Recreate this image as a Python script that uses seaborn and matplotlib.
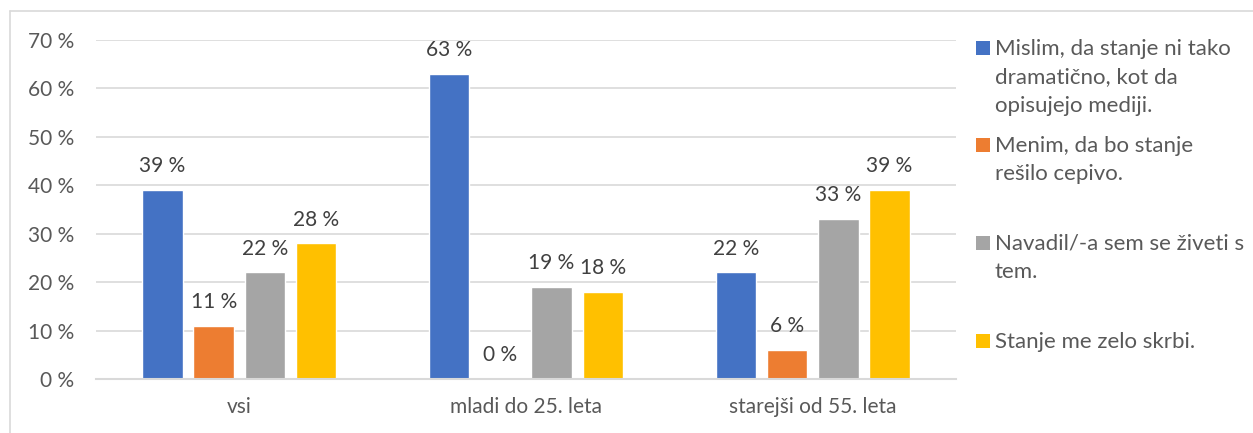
import matplotlib
matplotlib.use("Agg")
import matplotlib.pyplot as plt
from matplotlib.lines import Line2D
from matplotlib.patches import Rectangle
import seaborn as sns
import pandas as pd

# ---- data ----
categories = ["vsi", "mladi do 25. leta", "starejši od 55. leta"]
series_names = [
    "Mislim, da stanje ni tako dramatično, kot da opisujejo mediji.",
    "Menim, da bo stanje rešilo cepivo.",
    "Navadil/-a sem se živeti s tem.",
    "Stanje me zelo skrbi.",
]
legend_lines = [
    ["Mislim, da stanje ni tako", "dramatično, kot da", "opisujejo mediji."],
    ["Menim, da bo stanje", "rešilo cepivo."],
    ["Navadil/-a sem se živeti s", "tem."],
    ["Stanje me zelo skrbi."],
]
s1 = [39, 63, 22]
s2 = [11, 0, 6]
s3 = [22, 19, 33]
s4 = [28, 18, 39]
y_ticks = [0, 10, 20, 30, 40, 50, 60, 70]
colors = ["#4472C4", "#ED7D31", "#A5A5A5", "#FFC000"]

rows = []
for name, vals in zip(series_names, [s1, s2, s3, s4]):
    for c, v in zip(categories, vals):
        rows.append({"cat": c, "series": name, "val": v})
df = pd.DataFrame(rows)

sns.set_theme(style="white")
plt.rcParams["font.family"] = ["Lato", "DejaVu Sans"]
txt = "#595959"
fs = 15

fig = plt.figure(figsize=(12.53, 4.33), dpi=100)
W, H = 1253, 433
ax = fig.add_axes([96 / W, (H - 379) / H, (956 - 96) / W, (379 - 40) / H])

sns.barplot(data=df, x="cat", y="val", hue="series", order=categories,
            hue_order=series_names, palette=colors, width=0.715, gap=0.21,
            saturation=1, ax=ax, legend=False)

for cont in ax.containers:
    ax.bar_label(cont, labels=[f"{int(round(b.get_height()))} %" for b in cont],
                 padding=10, fontsize=fs, color="#404040")

ax.set_xlim(-0.5, 2.5)
ax.set_ylim(0, 70)
ax.set_yticks(y_ticks)
ax.set_yticklabels([f"{t} %" for t in y_ticks], fontsize=fs, color=txt)
ax.tick_params(axis="x", labelsize=fs, labelcolor=txt, pad=13, length=0)
ax.tick_params(axis="y", pad=16, length=0)
ax.set_xlabel("")
ax.set_ylabel("")
ax.yaxis.grid(True, color="#D9D9D9", linewidth=1.2)
ax.set_axisbelow(True)
for sp in ["top", "right", "left"]:
    ax.spines[sp].set_visible(False)
ax.spines["bottom"].set_color("#D9D9D9")
ax.spines["bottom"].set_linewidth(1.5)

# legend drawn manually (Excel-like, top-aligned entries)
base_y = [55, 152, 250, 348]
for lines, col, by in zip(legend_lines, colors, base_y):
    fig.add_artist(Rectangle((976 / W, (H - by) / H), 14 / W, 14 / H,
                             transform=fig.transFigure, color=col, lw=0))
    for i, line in enumerate(lines):
        fig.text(995 / W, (H - by - 28.5 * i) / H, line, ha="left", va="baseline",
                 fontsize=16, color=txt)

# chart frame (cropped)
fig.add_artist(Line2D([10 / W, 1.0], [(H - 11) / H] * 2, color="#D9D9D9", lw=1.2,
                      transform=fig.transFigure))
fig.add_artist(Line2D([10 / W] * 2, [0, (H - 11) / H], color="#D9D9D9", lw=1.2,
                      transform=fig.transFigure))

fig.savefig("out.png", dpi=100)
